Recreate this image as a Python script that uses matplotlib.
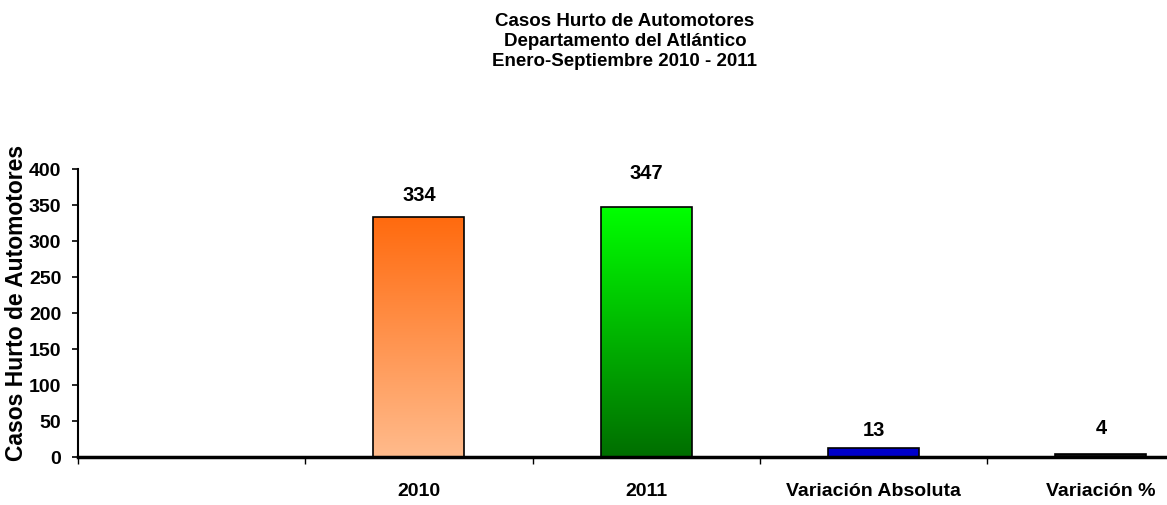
import numpy as np
import matplotlib
matplotlib.use('Agg')
import matplotlib.pyplot as plt
from matplotlib.colors import LinearSegmentedColormap

categories = ['', '2010', '2011', 'Variación Absoluta', 'Variación %']
values = [0, 334, 347, 13, 4]
value_labels = ['', '334', '347', '13', '4']
yticks = [0, 50, 100, 150, 200, 250, 300, 350, 400]

# gradient (top, bottom) for each bar
grads = [None, ('#ff6a0e', '#ffbb8c'), ('#00ff00', '#006e00'),
         ('#0000cc', '#0000cc'), ('#111111', '#111111')]
label_pad = [0, 12, 24, 8, 16]  # px above bar top, as in the original

plt.rcParams['font.family'] = ['Liberation Sans', 'DejaVu Sans']

W, H = 1167, 505
fig = plt.figure(figsize=(W / 100, H / 100), dpi=100)
x0, y0, ytop = 78, 457, 169
slot = 227.3
ax = fig.add_axes([x0 / W, (H - y0) / H, (W - x0) / W, (y0 - ytop) / H])

xs = np.arange(len(categories))
bars = ax.bar(xs, values, width=0.4, facecolor='none', edgecolor='black',
              linewidth=1.2, zorder=3)
for b, g in zip(bars, grads):
    if g is None or b.get_height() == 0:
        continue
    cmap = LinearSegmentedColormap.from_list('g', [g[1], g[0]])
    grad = np.linspace(0, 1, 256).reshape(-1, 1)
    x, w, h = b.get_x(), b.get_width(), b.get_height()
    im = ax.imshow(grad, cmap=cmap, aspect='auto', origin='lower',
                   extent=[x, x + w, 0, h], zorder=2)
    im.set_clip_path(b)

for b, lab, pad in zip(bars, value_labels, label_pad):
    if not lab:
        continue
    ax.annotate(lab, (b.get_x() + b.get_width() / 2, b.get_height()),
                xytext=(0, pad * 0.72), textcoords='offset points',
                ha='center', va='bottom', fontsize=14.5, fontweight='bold')

for s in ['top', 'right']:
    ax.spines[s].set_visible(False)
ax.spines['left'].set_linewidth(1.5)
ax.spines['bottom'].set_linewidth(2.5)
ax.spines['bottom'].set_zorder(4)

ax.set_yticks(yticks)
ax.set_yticklabels([str(v) for v in yticks], fontsize=14, fontweight='bold')
ax.tick_params(axis='y', direction='out', length=4, width=1.2, pad=8)

ax.set_xticks(np.arange(-0.5, len(categories), 1))
ax.set_xticklabels([])
ax.tick_params(axis='x', which='major', direction='out', length=5, width=1)
ax.set_xticks(xs, minor=True)
ax.set_xticklabels(categories, minor=True, fontsize=14, fontweight='bold')
ax.tick_params(axis='x', which='minor', length=0, pad=19)

ax.set_xlim(-0.5, -0.5 + (W - x0) / slot)
ax.set_ylim(0, 400)

title_lines = ['Casos Hurto de Automotores', 'Departamento del Atlántico',
               'Enero-Septiembre 2010 - 2011']
for i, t in enumerate(title_lines):
    fig.text(625 / W, 1 - (21 + 20 * i) / H, t, ha='center', va='center',
             fontsize=13.5, fontweight='bold')

fig.text(17 / W, 1 - 303 / H, 'Casos Hurto de Automotores', rotation=90,
         ha='center', va='center', fontsize=16.5, fontweight='bold')

fig.savefig('out.png', dpi=100)
